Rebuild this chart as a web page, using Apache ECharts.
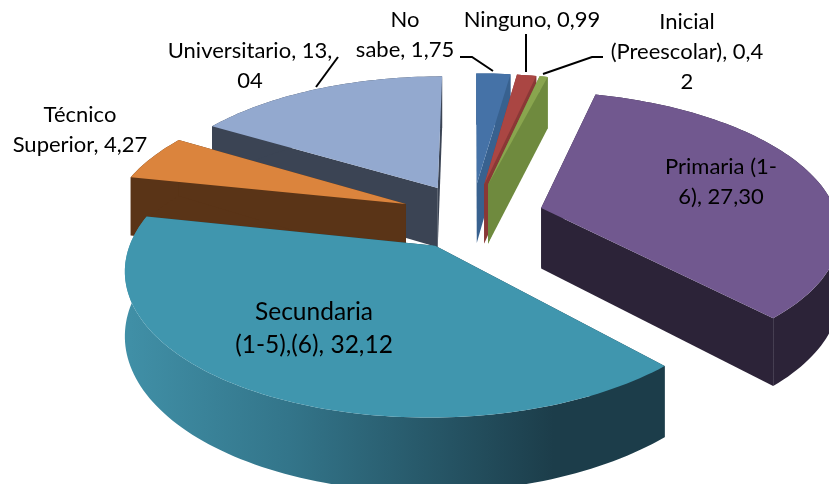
<!DOCTYPE html>
<html>
<head>
<meta charset="utf-8">
<style>
    html, body { margin: 0; padding: 0; background: #fff; }
    #chart { width: 829px; height: 484px; }
</style>
<script src="https://cdn.jsdelivr.net/npm/echarts@6/dist/echarts.min.js"></script>
</head>
<body>
<div id="chart"></div>
<script>
// Clockwise from 12 o'clock, as in the source pie
const categories = ["No sabe", "Ninguno", "Inicial (Preescolar)", "Primaria (1-6)", "Secundaria (1-5),(6)", "Técnico Superior", "Universitario"];
const values = [1.75, 0.99, 0.42, 27.30, 32.12, 4.27, 13.04];

const topColors = ["#4572a7", "#aa4643", "#89a54e", "#71588f", "#4096ae", "#db843d", "#93a9cf"];
const wallColors = ["#38618f", "#8a3836", "#6f8a3e", "#2c2338", "#1c3d4a", "#5a3417", "#3b4454"];
// painter's order, back slices first
const drawRank = [0, 1, 2, 4, 6, 5, 3];

// fake 3D camera for the tilted pie
const cam = { cx: 472, cy: 216, r: 296, explode: 72, height: 61, tilt: 0.46, persp: 0.15 };

function project(x, y, z) {
    const w = 1 + cam.persp * y / cam.r;
    return [cam.cx + x / w, cam.cy - (cam.tilt * y + z * cam.height) / w];
}

const total = values.reduce((a, b) => a + b, 0);

function renderSlice(params, api) {
    const i = params.dataIndex;
    const before = values.slice(0, i).reduce((a, b) => a + b, 0);
    const a0 = (before / total) * Math.PI * 2;
    const a1 = ((before + api.value(0)) / total) * Math.PI * 2;
    const mid = (a0 + a1) / 2;
    const ox = Math.sin(mid) * cam.explode;
    const oy = Math.cos(mid) * cam.explode;
    const steps = Math.max(2, Math.ceil((a1 - a0) * 40));

    const rim = (a, z) => project(ox + Math.sin(a) * cam.r, oy + Math.cos(a) * cam.r, z);
    const topArc = [];
    const botArc = [];
    for (let s = 0; s <= steps; s++) {
        const a = a0 + ((a1 - a0) * s) / steps;
        topArc.push(rim(a, 0));
        botArc.push(rim(a, -1));
    }
    const apexTop = project(ox, oy, 0);
    const apexBot = project(ox, oy, -1);

    let wallFill = wallColors[i];
    if (categories[i].indexOf("Secundaria") === 0) {
        wallFill = new echarts.graphic.LinearGradient(130, 0, 660, 0, [
            { offset: 0, color: "#408fa6" },
            { offset: 0.3, color: "#33758a" },
            { offset: 0.8, color: "#1c3d4a" },
            { offset: 1, color: "#1c3d4a" },
        ], true);
    }

    const z = drawRank[i] * 10;
    const poly = (points, fill, z2) => ({
        type: "polygon",
        z2: z2,
        shape: { points: points },
        style: { fill: fill },
    });

    return {
        type: "group",
        children: [
            poly([apexTop, topArc[0], botArc[0], apexBot], wallColors[i], z),
            poly([apexTop, topArc[steps], botArc[steps], apexBot], wallColors[i], z + 1),
            poly(topArc.concat(botArc.slice().reverse()), wallFill, z + 2),
            poly([apexTop].concat(topArc), topColors[i], z + 3),
        ],
    };
}

// label text, line by line
const labelLines = [
    ["No", "sabe, 1,75"],
    ["Ninguno, 0,99"],
    ["Inicial", "(Preescolar), 0,4", "2"],
    ["Primaria (1-", "6), 27,30"],
    ["Secundaria", "(1-5),(6), 32,12"],
    ["Técnico", "Superior, 4,27"],
    ["Universitario, 13,", "04"],
];
const labelCenters = [[405, 20], [532, 20], [687, 22], [721, 167], [314, 312], [80, 115], [250, 51]];
const labelSizes = [22, 22, 22, 22, 24.5, 22, 22];
const labelGaps = [30, 30, 30, 30, 33, 30, 30];
const leaderLines = [
    [[460, 57], [472, 57], [493, 71]],
    [[526, 34], [526, 72]],
    [[603, 57], [592, 57], [543, 74]],
    [[338, 57], [316, 87]],
];

const graphicElements = [];
labelLines.forEach((lines, i) => {
    lines.forEach((text, k) => {
        graphicElements.push({
            type: "text",
            z: 10,
            x: labelCenters[i][0],
            y: labelCenters[i][1] + k * labelGaps[i],
            style: {
                text: text,
                fill: "#000",
                font: labelSizes[i] + 'px Lato, "Open Sans", sans-serif',
                textAlign: "center",
                textVerticalAlign: "middle",
            },
        });
    });
});
leaderLines.forEach((pts) => {
    graphicElements.push({
        type: "polyline",
        z: 10,
        shape: { points: pts },
        style: { stroke: "#000", lineWidth: 2, fill: null },
    });
});

const chart = echarts.init(document.getElementById("chart"), null, { renderer: "canvas" });
chart.setOption({
    animation: false,
    backgroundColor: "#ffffff",
    series: [
        {
            type: "custom",
            coordinateSystem: "none",
            silent: true,
            renderItem: renderSlice,
            data: values.map((v, i) => ({ name: categories[i], value: [v] })),
        },
    ],
    graphic: { elements: graphicElements },
});
</script>
</body>
</html>
